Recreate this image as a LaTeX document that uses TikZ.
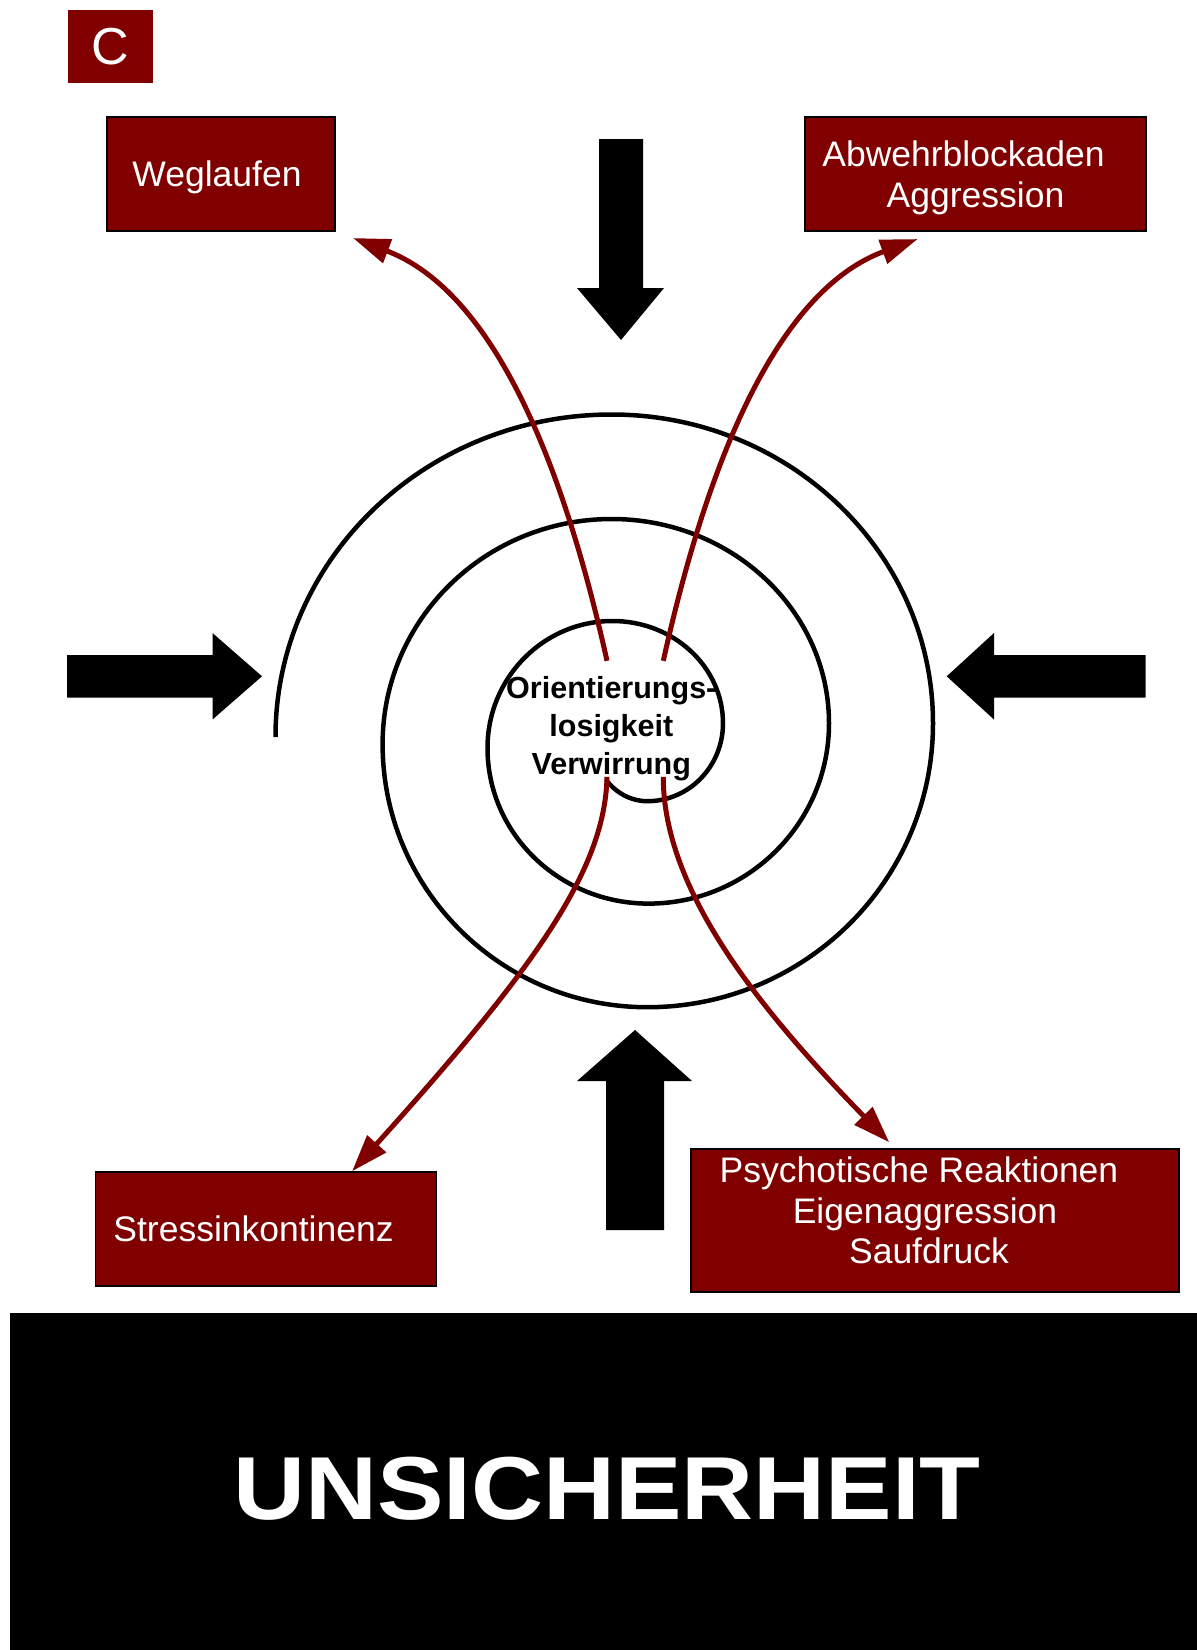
\documentclass[tikz,border=0pt]{standalone}
\usepackage{fontspec}
\setmainfont{Liberation Sans}
\usetikzlibrary{arrows.meta,calc}
\definecolor{darkred}{RGB}{128,0,0}

\begin{document}
\begin{tikzpicture}[x=1pt,y=-1pt,
  redbox/.style={draw=black, line width=1.5pt, fill=darkred, text=white,
    inner sep=0pt, align=center, font=\fontsize{35.5}{40.5}\selectfont},
  redline/.style={draw=darkred, line width=5pt,
    -{Triangle[length=37pt,width=24.5pt]}},
  blockarrow/.style={fill=black},
  spiral/.style={draw=black, line width=4.5pt},
  coretext/.style={inner sep=0pt, align=center,
    font=\bfseries\fontsize{30.5}{38.3}\selectfont},
]
\useasboundingbox (0,0) rectangle (1197,1650);

% label tag
\node[fill=darkred, text=white, minimum width=85pt, minimum height=73pt,
  inner sep=0pt, font=\fontsize{52}{60}\selectfont] (tag) at (110.5,46.5) {C};

% reaction boxes
\node[redbox, minimum width=228pt, minimum height=114pt] (weg) at (221,174)
  {\rule{0pt}{33pt}Weglaufen\hspace*{8pt}\mbox{}};
\node[redbox, minimum width=341pt, minimum height=114pt] (abw) at (975.5,174)
  {\rule{0pt}{33pt}Abwehrblockaden\hspace*{24pt}\mbox{}\\Aggression};
\node[redbox, minimum width=341pt, minimum height=114pt] (stress) at (266,1229)
  {Stressinkontinenz\hspace*{25pt}\mbox{}};
\node[redbox, minimum width=488pt, minimum height=143pt] (psy) at (935,1220.5)
  {Psychotische Reaktionen\hspace*{32pt}\mbox{}\\Eigenaggression\hspace*{20pt}\mbox{}\\Saufdruck\hspace*{12pt}\rule[-20pt]{0pt}{20pt}};

% pressure arrows pointing inwards
\fill[blockarrow] (599,139) -- (643,139) -- (643,288) -- (664,288) -- (621,340)
  -- (577,288) -- (599,288) -- cycle;
\fill[blockarrow] (606,1230) -- (664,1230) -- (664,1081) -- (692,1081) -- (635,1030)
  -- (577,1081) -- (606,1081) -- cycle;
\fill[blockarrow] (67,655) -- (212.5,655) -- (212.5,633) -- (262,676.3)
  -- (212.5,719.5) -- (212.5,697.5) -- (67,697.5) -- cycle;
\fill[blockarrow] (1145.5,655) -- (994,655) -- (994,633) -- (946.7,676.3)
  -- (994,719.5) -- (994,697.5) -- (1145.5,697.5) -- cycle;

% spiral made of quarter arcs, winding inwards clockwise
\draw[spiral] (275.5,737)
  arc[start angle=180, end angle=270, x radius=336.1, y radius=322.5]
  arc[start angle=270, end angle=360, x radius=321.4, y radius=308.8]
  arc[start angle=0,   end angle=90,  x radius=285.7, y radius=283.9]
  arc[start angle=90,  end angle=180, x radius=264.7, y radius=263.2]
  arc[start angle=180, end angle=270, x radius=229,   y radius=225]
  arc[start angle=270, end angle=360, x radius=217.4, y radius=204.3]
  arc[start angle=0,   end angle=90,  x radius=180.4, y radius=180.3]
  arc[start angle=90,  end angle=180, x radius=161.1, y radius=155.6]
  arc[start angle=180, end angle=270, x radius=125,   y radius=127]
  arc[start angle=270, end angle=360, x radius=110.5, y radius=102.3]
  arc[start angle=0,   end angle=90,  x radius=75.7,  y radius=77.9]
  arc[start angle=90,  end angle=139, x radius=55,    y radius=63];

% core
\node[coretext] (core) at (611.3,728.8) {Orientierungs-\\losigkeit\\Verwirrung};

% reaction connectors
\coordinate (ulStart) at ($(core.center)+(-4.3,-68)$);
\coordinate (urStart) at ($(core.center)+(52,-68)$);
\coordinate (llStart) at ($(core.center)+(-4.3,48)$);
\coordinate (lrStart) at ($(core.center)+(52,48)$);
\coordinate (wegTip) at ($(weg.south east)+(17.3,6.3)$);
\coordinate (abwTip) at ($(abw.south west)+(113.3,7.3)$);
\coordinate (stressTip) at ($(stress.north west)+(257.3,0)$);
\coordinate (psyTip) at ($(psy.north west)+(199,-6)$);

\draw[redline] (ulStart) .. controls (540,360) and (450,275) .. (wegTip);
\draw[redline] (urStart) .. controls (730,360) and (820,275) .. (abwTip);
\draw[redline] (llStart) .. controls (605,870) and (535,968) .. (stressTip);
\draw[redline] (lrStart) .. controls (663,890) and (760,1010) .. (psyTip);

% ground
\fill[black] (10,1313) rectangle (1197,1650);
\begin{scope}[shift={(607,1519)}]
  \node[text=white, inner sep=0pt, anchor=base, xscale=1.115,
    font=\bfseries\fontsize{89.4}{100}\selectfont] (ground) at (0,0) {UNSICHERHEIT};
\end{scope}
\end{tikzpicture}
\end{document}
